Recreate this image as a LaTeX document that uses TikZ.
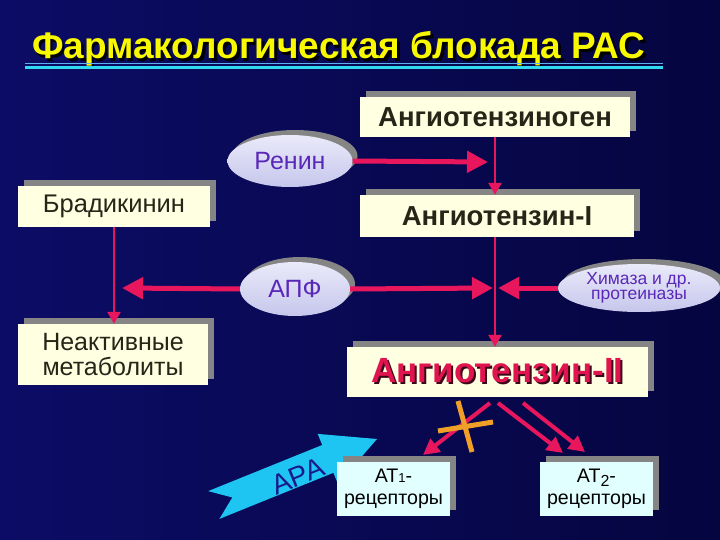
\documentclass[tikz,border=0pt]{standalone}
\usepackage{fontspec}
\setmainfont{Liberation Sans}
\usetikzlibrary{arrows.meta,shapes.geometric,shadows}
\definecolor{bgL}{HTML}{0C0C66}
\definecolor{bgR}{HTML}{050540}
\definecolor{titleY}{HTML}{F8F800}
\definecolor{lineA}{HTML}{5FB0F0}
\definecolor{lineB}{HTML}{30D8F0}
\definecolor{cream}{HTML}{FFFFE2}
\definecolor{shadowgray}{HTML}{858585}
\definecolor{boxtext}{HTML}{262618}
\definecolor{lavTop}{HTML}{EAEAFA}
\definecolor{lavBot}{HTML}{C6C6EC}
\definecolor{purp}{HTML}{5A28B8}
\definecolor{arrowc}{HTML}{E8175D}
\definecolor{redtext}{HTML}{E0144E}
\definecolor{redshadow}{HTML}{3A0818}
\definecolor{cyanbox}{HTML}{E2FFFF}
\definecolor{cyanA}{HTML}{1EC4F2}
\definecolor{aratext}{HTML}{1A1A8C}
\definecolor{crossc}{HTML}{F0A028}
\newcommand{\shadowtext}[3]{\makebox[0pt][l]{\kern#3\raisebox{-#3}{\color{#2}#1}}#1}
\begin{document}
\begin{tikzpicture}[x=1pt,y=-1pt,
  box/.style={fill=cream, inner sep=0pt, align=center, text=boxtext,
    drop shadow={shadow xshift=6pt, shadow yshift=6pt, fill=shadowgray, opacity=1}},
  cbox/.style={box, fill=cyanbox, text=black},
  ell/.style={ellipse, top color=lavTop, bottom color=lavBot, inner sep=0pt, align=center, text=purp,
    drop shadow={shadow xshift=5pt, shadow yshift=5pt, fill=shadowgray, opacity=1}},
  boldtxt/.style={font=\bfseries\fontsize{27.5}{29}\selectfont},
  regtxt/.style={font=\fontsize{25.5}{25.5}\selectfont},
  bigarr/.style={draw=arrowc, line width=5pt, -{Triangle[length=21pt,width=21pt]}},
  thinarr/.style={draw=arrowc, line width=2.6pt, -{Triangle[length=12pt,width=13pt]}},
  midarr/.style={draw=arrowc, line width=4pt, -{Triangle[length=16pt,width=16pt]}},
  crossline/.style={draw=crossc, line width=5pt},
  titletxt/.style={font=\bfseries\fontsize{37}{37}\selectfont, anchor=base west, inner sep=0pt}
]
\useasboundingbox (0,0) rectangle (720,540);
\shade[left color=bgL, right color=bgR] (0,0) rectangle (720,540);

% title
\node[titletxt, text=titleY] (title) at (32,59) {\shadowtext{Фармакологическая блокада РАС}{black}{2.5pt}};
\draw[lineA, line width=1.6pt] (25,63.5) -- (663,63.5);
\draw[lineB, line width=2.6pt] (25,67.5) -- (663,67.5);

% boxes
\node[box, boldtxt, minimum width=270pt, minimum height=40pt] (ag) at (495,117) {Ангиотензиноген};
\node[box, boldtxt, minimum width=274pt, minimum height=42pt] (a1) at (497,216) {Ангиотензин-I};
\node[box, regtxt, minimum width=192pt, minimum height=41pt] (brad) at (114,206.5) {Брадикинин};
\node[box, font=\fontsize{25}{25}\selectfont, minimum width=190pt, minimum height=61pt] (inact) at (113,354.5) {Неактивные\\метаболиты};
\node[box, font=\bfseries\fontsize{35}{35}\selectfont, text=redtext, minimum width=301pt, minimum height=50pt] (a2) at (497.5,372) {\shadowtext{Ангиотензин-II}{redshadow}{2pt}};

% ellipses
\node[ell, font=\fontsize{25}{25}\selectfont, minimum width=125pt, minimum height=52pt] (renin) at (290,161) {Ренин};
\node[ell, font=\fontsize{25}{25}\selectfont, minimum width=110pt, minimum height=54pt] (apf) at (295,289) {АПФ};
\node[ell, font=\fontsize{17.5}{14.5}\selectfont, minimum width=162pt, minimum height=48pt] (chym) at (639,288) {Химаза и др.\\протеиназы};

% ARA arrow
\path[fill=cyanA] (208.2,491.1) -- (322.2,445.0) -- (317.7,433.9) -- (377,439) -- (337.9,483.9) -- (333.4,472.8) -- (219.4,518.9) -- (232.3,497.5) -- cycle;
\begin{scope}
\clip (208.2,491.1) -- (322.2,445.0) -- (317.7,433.9) -- (377,439) -- (337.9,483.9) -- (333.4,472.8) -- (219.4,518.9) -- (232.3,497.5) -- cycle;
\node[rotate=22, text=aratext, font=\fontsize{28}{28}\selectfont] (ara) at (298,476) {АРА};
\end{scope}

% receptor boxes
\node[cbox, font=\fontsize{19.6}{22}\selectfont, minimum width=113pt, minimum height=54pt] (at1) at (393.5,489) {AT{\fontsize{13}{13}\selectfont 1}-\\рецепторы};
\node[cbox, font=\fontsize{19.6}{22}\selectfont, minimum width=113pt, minimum height=54pt] (at2) at (596.5,489) {AT\raisebox{-4pt}{\fontsize{16}{16}\selectfont 2}-\\рецепторы};

% coordinates
\coordinate (rt) at (488,162);
\coordinate (apfL) at (122,288);
\coordinate (apfR) at (493,288);
\coordinate (chL) at (498,288);
\coordinate (s1) at (490,403);
\coordinate (e1) at (423,455);
\coordinate (s2) at (498,403);
\coordinate (e2) at (563,453);
\coordinate (s3) at (523,403);
\coordinate (e3) at (585,452);
\coordinate (c1a) at (458,401);
\coordinate (c1b) at (472,452);
\coordinate (c2a) at (438,431);
\coordinate (c2b) at (493,422);

% connectors
\draw[bigarr] (renin.east) -- (rt);
\draw[thinarr] (ag.south) -- (ag.south |- a1.north);
\draw[thinarr] (brad.south) -- (brad.south |- inact.north);
\draw[bigarr] (apf.west) -- (apfL);
\draw[bigarr] (apf.east) -- (apfR);
\draw[bigarr] (chym.west) -- (chL);
\draw[thinarr] (ag.south |- a1.south) -- (ag.south |- a2.north);
\draw[midarr] (s1) -- (e1);
\draw[midarr] (s2) -- (e2);
\draw[midarr] (s3) -- (e3);
\draw[crossline] (c1a) -- (c1b);
\draw[crossline] (c2a) -- (c2b);
\end{tikzpicture}
\end{document}
